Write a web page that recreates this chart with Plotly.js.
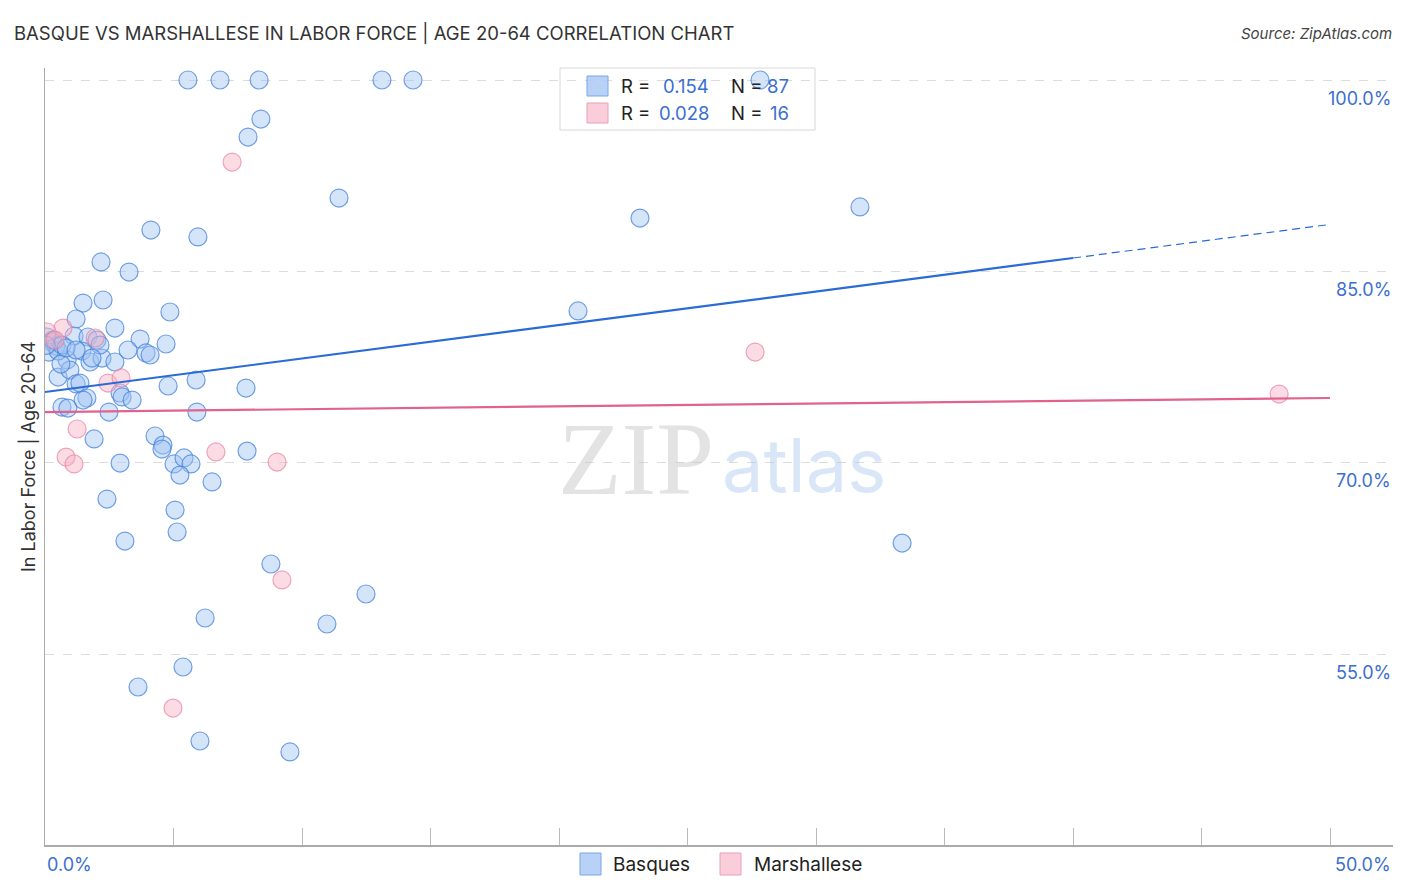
<!DOCTYPE html>
<html>
<head>
<meta charset="utf-8">
<script src="https://cdn.plot.ly/plotly-3.0.1.min.js"></script>
<style>html,body{margin:0;padding:0;background:#fff;}#chart{width:1406px;height:892px;}</style>
</head>
<body>
<div id="chart"></div>
<script>
// ---- data (x: % share, y: % in labor force) ----
const basquesX = [5.56,6.81,8.33,13.11,14.32,27.82,8.40,7.90,11.44,23.15,31.71,4.12,5.95,2.18,3.27,1.48,2.26,20.74,4.86,1.21,2.72,1.13,1.67,2.02,3.70,4.71,3.23,3.93,4.09,1.44,0.86,1.75,2.22,2.72,0.51,0.97,1.21,1.36,4.79,5.88,7.82,2.92,3.00,1.63,1.48,3.39,0.66,0.89,2.49,5.91,1.91,4.28,4.59,4.55,2.92,5.02,5.41,5.68,5.25,6.50,7.86,2.41,5.06,5.14,3.11,33.35,8.79,12.49,6.23,10.97,5.37,3.62,6.03,9.53,0.08,0.27,0.43,0.16,0.51,0.62,0.31,0.66,0.82,2.14,1.21,0.05,1.83];
const basquesY = [100,100,100,100,100,100,96.94,95.53,90.75,89.18,90.05,88.24,87.70,85.74,84.95,82.52,82.76,81.90,81.82,81.27,80.56,79.94,79.86,79.62,79.70,79.31,78.84,78.61,78.45,78.76,78.06,77.90,78.21,77.90,76.72,77.27,76.18,76.25,76.02,76.49,75.86,75.47,75.16,75.08,74.92,74.92,74.37,74.29,73.98,73.98,71.87,72.10,71.39,71.08,69.98,69.91,70.38,69.91,69.04,68.50,70.92,67.16,66.30,64.58,63.87,63.71,62.07,59.72,57.84,57.37,54.00,52.43,48.20,47.34,79.86,79.47,79.15,78.68,78.76,77.74,79.62,79.23,79.00,79.23,78.84,79.20,78.21];
const marshX = [7.28,0.70,0.08,0.39,1.95,2.45,2.96,1.25,0.82,1.13,6.65,9.03,9.22,4.98,27.63,48.02];
const marshY = [93.57,80.56,80.25,79.62,79.78,76.25,76.65,72.65,70.45,69.91,70.85,70.06,60.82,50.78,78.68,75.39];
// trend lines (fitted): endpoints
const trendBasqueSolidX = [0, 40];
const trendBasqueSolidY = [75.55, 86.05];
const trendBasqueDashX = [40, 50];
const trendBasqueDashY = [86.05, 88.68];
const trendMarshX = [0, 50];
const trendMarshY = [73.98, 75.08];
// axis ticks
const yTickVals = [55, 70, 85, 100];
const yTickText = ["55.0%", "70.0%", "85.0%", "100.0%"];
const xTickVals = [0,5,10,15,20,25,30,35,40,45,50];
// legend stats
const seriesNames = ["Basques", "Marshallese"];
const rValues = ["0.154", "0.028"];
const nValues = ["87", "16"];

const BLUE_FILL = 'rgba(160,196,242,0.45)';
const BLUE_EDGE = 'rgba(70,130,220,0.75)';
const PINK_FILL = 'rgba(246,178,198,0.45)';
const PINK_EDGE = 'rgba(232,130,160,0.7)';
const LABEL_BLUE = '#3b6fd0';
const F = 'Inter, Open Sans, sans-serif';

const traces = [
  {x: basquesX, y: basquesY, mode: 'markers', type: 'scatter', name: seriesNames[0],
   marker: {size: 18, color: BLUE_FILL, line: {color: BLUE_EDGE, width: 1.2}}, showlegend: false},
  {x: marshX, y: marshY, mode: 'markers', type: 'scatter', name: seriesNames[1],
   marker: {size: 18, color: PINK_FILL, line: {color: PINK_EDGE, width: 1.2}}, showlegend: false},
  {x: trendBasqueSolidX, y: trendBasqueSolidY, mode: 'lines', type: 'scatter',
   line: {color: '#2a6bd6', width: 2.2}, showlegend: false, hoverinfo: 'skip'},
  {x: trendBasqueDashX, y: trendBasqueDashY, mode: 'lines', type: 'scatter',
   line: {color: '#2a6bd6', width: 1.2, dash: '8px,5px'}, showlegend: false, hoverinfo: 'skip'},
  {x: trendMarshX, y: trendMarshY, mode: 'lines', type: 'scatter',
   line: {color: '#e0628e', width: 2.2}, showlegend: false, hoverinfo: 'skip'}
];

const toPaperX = (x) => (x - 45) / (1406 - 45 - 13);
const toPaperY = (y) => (892 - 47 - y) / (892 - 68 - 47);

const annotations = [];
yTickVals.forEach((v, i) => {
  annotations.push({x: toPaperX(1393), xref: 'paper', y: v, yref: 'y', text: yTickText[i], showarrow: false,
    xanchor: 'right', yanchor: 'middle', yshift: -18, font: {family: F, size: 18, color: LABEL_BLUE}});
});
annotations.push({x: 0, xref: 'x', y: 0, yref: 'paper', text: '0.0%', showarrow: false,
  xanchor: 'left', yanchor: 'top', yshift: -7, font: {family: F, size: 18, color: LABEL_BLUE}});
annotations.push({x: toPaperX(1393), xref: 'paper', y: 0, yref: 'paper', text: '50.0%', showarrow: false,
  xanchor: 'right', yanchor: 'top', yshift: -7, font: {family: F, size: 18, color: LABEL_BLUE}});
// watermark
annotations.push({x: 0.5, xref: 'paper', y: 70, yref: 'y', text: 'ZIP', showarrow: false, xanchor: 'right', yanchor: 'middle', xshift: -3, yshift: 4,
  font: {family: 'Liberation Serif, DejaVu Serif, serif', size: 104, color: 'rgba(200,200,200,0.5)'}});
annotations.push({x: 0.5, xref: 'paper', y: 70, yref: 'y', text: 'atlas', showarrow: false, xanchor: 'left', yanchor: 'middle', xshift: 1, yshift: -2,
  font: {family: F, size: 74, color: 'rgba(170,200,238,0.45)'}});
// title & source
annotations.push({x: toPaperX(12), y: toPaperY(33), xref: 'paper', yref: 'paper', text: 'BASQUE VS MARSHALLESE IN LABOR FORCE | AGE 20-64 CORRELATION CHART',
  showarrow: false, xanchor: 'left', yanchor: 'middle', font: {family: F, size: 18.5, color: '#333'}});
annotations.push({x: toPaperX(1394), y: toPaperY(33), xref: 'paper', yref: 'paper', text: '<i>Source: ZipAtlas.com</i>',
  showarrow: false, xanchor: 'right', yanchor: 'middle', font: {family: F, size: 15, color: '#444'}});

const shapes = [];
shapes.push({type: 'rect', xref: 'paper', yref: 'paper', x0: toPaperX(560), x1: toPaperX(815), y0: toPaperY(68), y1: toPaperY(130),
  line: {color: '#d8d8d8', width: 1}, fillcolor: '#ffffff', layer: 'below'});
const fills = ['rgba(170,202,245,0.85)', 'rgba(249,196,212,0.85)'];
const edges = ['#7aa6e6', '#eaa0b8'];
[86, 113].forEach((cy, i) => {
  shapes.push({type: 'rect', xref: 'paper', yref: 'paper', x0: toPaperX(587), x1: toPaperX(608), y0: toPaperY(cy - 10), y1: toPaperY(cy + 10),
    line: {color: edges[i], width: 1}, fillcolor: fills[i], layer: 'above'});
  annotations.push({x: toPaperX(619), y: toPaperY(cy), xref: 'paper', yref: 'paper', text: 'R =', showarrow: false, xanchor: 'left', yanchor: 'middle',
    font: {family: F, size: 18.5, color: '#222'}});
  annotations.push({x: toPaperX(711), y: toPaperY(cy), xref: 'paper', yref: 'paper', text: rValues[i], showarrow: false, xanchor: 'right', yanchor: 'middle',
    font: {family: F, size: 18.5, color: LABEL_BLUE}});
  annotations.push({x: toPaperX(729), y: toPaperY(cy), xref: 'paper', yref: 'paper', text: 'N =', showarrow: false, xanchor: 'left', yanchor: 'middle',
    font: {family: F, size: 18.5, color: '#222'}});
  annotations.push({x: toPaperX(791), y: toPaperY(cy), xref: 'paper', yref: 'paper', text: nValues[i], showarrow: false, xanchor: 'right', yanchor: 'middle',
    font: {family: F, size: 18.5, color: LABEL_BLUE}});
});
[[580, 611], [720, 752]].forEach((p, i) => {
  shapes.push({type: 'rect', xref: 'paper', yref: 'paper', x0: toPaperX(p[0]), x1: toPaperX(p[0] + 21), y0: toPaperY(853), y1: toPaperY(875),
    line: {color: edges[i], width: 1}, fillcolor: fills[i], layer: 'above'});
  annotations.push({x: toPaperX(p[1]), y: toPaperY(864), xref: 'paper', yref: 'paper', text: seriesNames[i], showarrow: false, xanchor: 'left', yanchor: 'middle',
    font: {family: F, size: 19, color: '#222'}});
});

const layout = {
  width: 1406, height: 892,
  margin: {l: 45, r: 13, t: 68, b: 47},
  paper_bgcolor: '#fff', plot_bgcolor: '#fff',
  showlegend: false,
  xaxis: {range: [0, 52.45], tickvals: xTickVals, ticktext: xTickVals.map(() => ''), ticks: 'inside', ticklen: 17,
    tickcolor: '#bbb', tickwidth: 1, showgrid: false, zeroline: false, showline: true, linecolor: '#aaa', linewidth: 1.5, fixedrange: true},
  yaxis: {range: [40.05, 100.94], tickvals: yTickVals, showticklabels: false, ticks: '', showgrid: true, gridcolor: '#dcdcdc',
    griddash: 'dash', gridwidth: 1, zeroline: false, showline: true, linecolor: '#aaa', linewidth: 1.5,
    title: {text: 'In Labor Force | Age 20-64', standoff: 3, font: {family: F, size: 18, color: '#333'}}},
  annotations: annotations,
  shapes: shapes
};

Plotly.newPlot('chart', traces, layout, {displayModeBar: false, staticPlot: true});
</script>
</body>
</html>
